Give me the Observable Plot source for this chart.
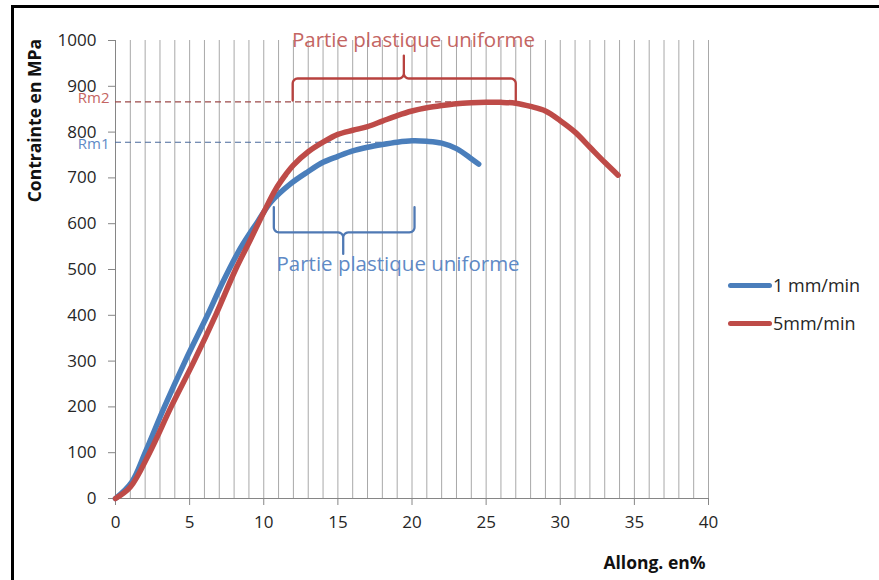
<!DOCTYPE html>
<html><head><meta charset="utf-8">
<script src="https://cdn.jsdelivr.net/npm/d3@7"></script>
<script src="https://cdn.jsdelivr.net/npm/@observablehq/plot@0.6"></script>
<style>
body{margin:0;background:#fff;}
#wrap{position:relative;width:879px;height:580px;overflow:hidden;font-family:"Open Sans",sans-serif;background:#fff;}
#border{position:absolute;left:11px;top:5px;width:900px;height:600px;border-left:3px solid #000;border-top:3px solid #000;pointer-events:none;}
.leg{position:absolute;left:728px;font-size:18px;color:#262626;display:flex;align-items:center;white-space:nowrap;}
.leg span.sw{display:inline-block;width:44px;height:5px;border-radius:3px;margin-right:1px;}
</style>
</head><body>
<div id="wrap"><div id="border"></div></div>
<script>
// ---- data ----
const seriesNames = ["1 mm/min", "5mm/min"];
const blueX = [0, 1.1, 2.0, 3.3, 4.7, 6.2, 7.2, 8.4, 9.6, 10.5, 11.8, 13, 14, 15, 16, 17, 18, 19, 20, 21, 22, 23, 24, 24.5];
const blueY = [0, 36, 100, 200, 300, 400, 470, 545, 605, 648, 687, 714, 734, 747, 759, 767, 773, 778, 781, 780, 776, 764, 742, 730];
const redX = [0, 1.0, 2.3, 3.75, 5.3, 6.75, 8.1, 9.1, 10.0, 10.8, 11.5, 12, 13, 14, 15, 16, 17, 18, 19, 20, 21, 22, 23, 24, 25, 26, 27, 28, 29, 30, 31, 32, 33, 33.9];
const redY = [0, 25, 100, 200, 300, 400, 500, 565, 625, 675, 708, 728, 757, 778, 795, 804, 812, 824, 836, 846, 853, 858, 862, 864, 865, 865, 863, 856, 846, 825, 800, 767, 734, 706];
const xTicks = [0, 5, 10, 15, 20, 25, 30, 35, 40];
const yTicks = [0, 100, 200, 300, 400, 500, 600, 700, 800, 900, 1000];
const xGrid = d3.range(0, 41, 1);
// annotations
const rmLabels = ["Rm1", "Rm2"];
const rmValues = [778, 866];
const rmEndX = [18.5, 23.5];
const bracketText = ["Partie plastique uniforme", "Partie plastique uniforme"];
const bracketTextX = [19.06, 20.1];
const bracketTextY = [512, 1000];
const bracketX0 = [10.68, 11.95];
const bracketX1 = [20.17, 27.0];
const bracketXTip = [15.36, 19.45];
const bracketYLeg = [636, 869];
const bracketYBar = [581, 917];
const bracketYTip = [534, 967];
const yTitle = "Contrainte en MPa", yTitleX = -5.4, yTitleY = 825;
const xTitle = "Allong. en%";

const colors = ["#4a7ebb", "#be4b48"];
const textColors = ["#5f8ac6", "#c46562"];
const bracketColors = ["#4f79b4", "#b8423f"];
const dashColors = ["#4a6a9c", "#9c4a4a"];

const curves = [];
blueX.forEach((x, i) => curves.push({s: seriesNames[0], x, y: blueY[i]}));
redX.forEach((x, i) => curves.push({s: seriesNames[1], x, y: redY[i]}));

const rms = rmLabels.map((l, i) => ({l, v: rmValues[i], e: rmEndX[i], c: dashColors[i], tc: textColors[i]}));

// brace shapes
function brace(i) {
  const x0 = bracketX0[i], x1 = bracketX1[i], xt = bracketXTip[i];
  const yl = bracketYLeg[i], yb = bracketYBar[i], yt = bracketYTip[i];
  const dir = Math.sign(yt - yb);
  const rx = 0.35, ry = 11 * dir;
  const pts = [];
  const arc = (cx, cy, a0, a1, sx, sy) => { for (let k = 0; k <= 6; k++) { const a = a0 + (a1 - a0) * k / 6; pts.push([cx + sx * Math.cos(a), cy + sy * Math.sin(a)]); } };
  pts.push([x0, yl]);
  arc(x0 + rx, yb - ry, Math.PI, Math.PI / 2, rx, ry);
  arc(xt - rx, yb + ry, -Math.PI / 2, 0, rx, ry);
  pts.push([xt, yt]);
  arc(xt + rx, yb + ry, Math.PI, 3 * Math.PI / 2, rx, ry);
  arc(x1 - rx, yb - ry, Math.PI / 2, 0, rx, ry);
  pts.push([x1, yl]);
  return pts.map(([x, y]) => ({b: i, x, y}));
}
const braces = [...brace(0), ...brace(1)];
const btexts = bracketText.map((t, i) => ({t, x: bracketTextX[i], y: bracketTextY[i], c: textColors[i]}));

const font = '"Open Sans", sans-serif';
const chart = Plot.plot({
  width: 879, height: 580,
  marginLeft: 115, marginRight: 171, marginTop: 40, marginBottom: 82,
  style: {fontFamily: font, background: "transparent", overflow: "visible"},
  x: {domain: [0, 40]},
  y: {domain: [0, 1000]},
  marks: [
    Plot.gridX(xGrid, {stroke: "#a8a8a8", strokeOpacity: 1, strokeWidth: 1}),
    Plot.ruleY([0], {stroke: "#868686", strokeWidth: 1}),
    Plot.ruleX([0], {stroke: "#868686", strokeWidth: 1}),
    Plot.axisX({ticks: xTicks, tickSize: 7, tickPadding: 10, fontSize: 17, stroke: "#868686", color: "#262626", label: null, tickFormat: d => String(d)}),
    Plot.axisY({ticks: yTicks, tickSize: 7, tickPadding: 12, fontSize: 17, stroke: "#868686", color: "#262626", label: null, tickFormat: d => String(d)}),
    Plot.ruleY(rms, {y: "v", x1: 0, x2: "e", stroke: "c", strokeDasharray: "6,4", strokeWidth: 1.1}),
    Plot.text(rms.slice(0, 1), {y: "v", x: 0, text: "l", fill: "tc", textAnchor: "end", dx: -6, dy: 2, lineAnchor: "middle", fontSize: 15, fontFamily: font}),
    Plot.text(rms.slice(1, 2), {y: "v", x: 0, text: "l", fill: "tc", textAnchor: "end", dx: -6, dy: -4, lineAnchor: "middle", fontSize: 15, fontFamily: font}),
    Plot.line(curves, {x: "x", y: "y", z: "s", stroke: "s", strokeWidth: 5.5, curve: "catmull-rom", strokeLinecap: "round", strokeLinejoin: "round"}),
    Plot.line(braces, {x: "x", y: "y", z: "b", stroke: d => bracketColors[d.b], strokeWidth: 2.3, strokeLinejoin: "round"}),
    Plot.text(btexts, {x: "x", y: "y", text: "t", fill: "c", fontSize: 20.5, fontFamily: font, lineAnchor: "middle"}),
    Plot.text([yTitle], {x: yTitleX, y: yTitleY, rotate: -90, lineAnchor: "middle", fontWeight: "bold", fontSize: 17.5, fill: "#111", fontFamily: font}),
    Plot.text([xTitle], {frameAnchor: "bottom-right", dy: 65, dx: -3, textAnchor: "end", lineAnchor: "middle", fontWeight: "bold", fontSize: 17.5, fill: "#111", fontFamily: font})
  ],
  color: {domain: seriesNames, range: colors}
});
const wrap = document.getElementById("wrap");
wrap.insertBefore(chart, wrap.firstChild);
seriesNames.forEach((n, i) => {
  const d = document.createElement("div");
  d.className = "leg";
  d.style.top = (i === 0 ? 273 : 311) + "px";
  const sw = document.createElement("span");
  sw.className = "sw"; sw.style.background = colors[i];
  d.appendChild(sw);
  const t = document.createElement("span"); t.textContent = n;
  d.appendChild(t);
  wrap.appendChild(d);
});
</script>
</body></html>
